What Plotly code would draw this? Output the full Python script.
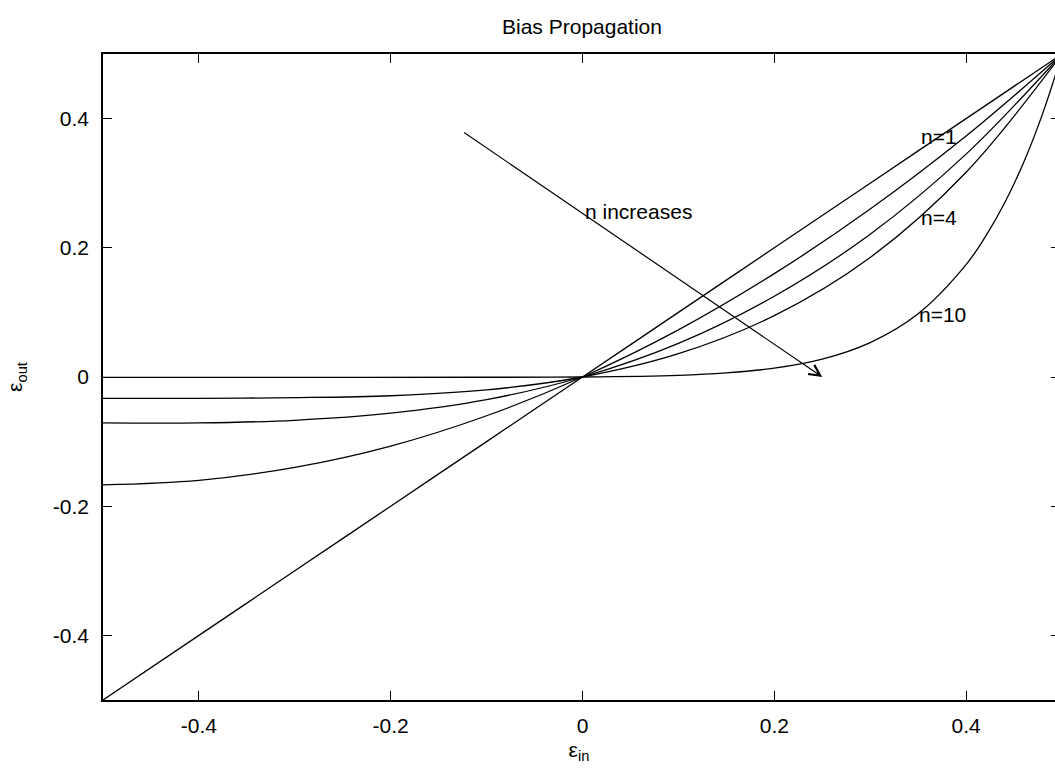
import plotly.graph_objects as go

# ---- data ----
x_main = [-0.5, -0.4, -0.3, -0.2, -0.1, 0.0, 0.1, 0.2, 0.3, 0.4, 0.5]
n1 = [-0.5, -0.4, -0.3, -0.2, -0.1, 0.0, 0.1, 0.2, 0.3, 0.4, 0.5]
n2 = [-0.167, -0.160, -0.140, -0.107, -0.060, 0.0, 0.073, 0.160, 0.260, 0.373, 0.5]
n3 = [-0.071, -0.071, -0.067, -0.056, -0.035, 0.0, 0.052, 0.125, 0.221, 0.345, 0.5]
n4 = [-0.033, -0.033, -0.032, -0.029, -0.020, 0.0, 0.036, 0.095, 0.185, 0.317, 0.5]

x_n10 = [-0.5, -0.3, -0.1, 0.0, 0.1, 0.15, 0.2, 0.25, 0.3, 0.35, 0.4, 0.42, 0.44, 0.46, 0.48, 0.5]
n10 = [-0.0005, -0.0005, -0.0004, 0.0, 0.0025, 0.0063, 0.0137, 0.0277, 0.0533, 0.098, 0.174,
       0.217, 0.269, 0.332, 0.4085, 0.5]

x_ticks = [-0.4, -0.2, 0, 0.2, 0.4]
x_tick_labels = ["-0.4", "-0.2", "0", "0.2", "0.4"]
y_ticks = [-0.4, -0.2, 0, 0.2, 0.4]
y_tick_labels = ["-0.4", "-0.2", "0", "0.2", "0.4"]

curve_labels = ["n=1", "n=4", "n=10"]
curve_label_x = [0.351, 0.351, 0.349]
curve_label_y = [0.372, 0.247, 0.097]

arrow_tail = (-0.125, 0.38)
arrow_head = (0.25, 0.0)

FONT = "Liberation Sans, Arial, Helvetica, sans-serif"
FS = 21
LINE = dict(color="black", width=1.3)

W, H = 1055, 773
L, T, B = 103, 54, 73

fig = go.Figure()
for xs, ys in [(x_main, n1), (x_main, n2), (x_main, n3), (x_main, n4), (x_n10, n10)]:
    fig.add_trace(go.Scatter(x=xs, y=ys, mode="lines", line=dict(shape="spline", **LINE),
                             showlegend=False, hoverinfo="skip"))

# invisible trace on right axis to drive mirrored right ticks
fig.add_trace(go.Scatter(x=[None], y=[None], yaxis="y2", showlegend=False))

for t, xx, yy in zip(curve_labels, curve_label_x, curve_label_y):
    fig.add_annotation(x=xx, y=yy, text=t, showarrow=False, xanchor="left", yanchor="middle",
                       font=dict(family=FONT, size=FS, color="black"))

fig.add_annotation(x=0.001, y=0.256, text="n increases", showarrow=False, xanchor="left",
                   yanchor="middle", font=dict(family=FONT, size=FS, color="black"))

fig.add_annotation(x=arrow_head[0], y=arrow_head[1], ax=arrow_tail[0], ay=arrow_tail[1],
                   xref="x", yref="y", axref="x", ayref="y", text="", showarrow=True,
                   arrowhead=5, arrowsize=1.8, arrowwidth=1.2, arrowcolor="black")

x_range_right = (1055 - 582) / 960.0

fig.update_layout(
    width=W, height=H,
    margin=dict(l=L, r=0, t=T, b=B),
    paper_bgcolor="white", plot_bgcolor="white",
    font=dict(family=FONT, size=FS, color="black"),
    title=dict(text="Bias Propagation", x=582 / W, xanchor="center", xref="container",
               y=1 - 27 / H, yanchor="middle", yref="container",
               font=dict(family=FONT, size=FS, color="black")),
    xaxis=dict(range=[-0.5, x_range_right], tickvals=x_ticks, ticktext=x_tick_labels,
               ticks="inside", ticklen=9, tickwidth=1.2, tickcolor="black",
               showline=True, linecolor="black", linewidth=1.6, mirror="ticks",
               showgrid=False, zeroline=False, ticklabelstandoff=6,
               tickfont=dict(family=FONT, size=FS),
               title=dict(text="ε<sub>in</sub>", standoff=6,
                          font=dict(family=FONT, size=FS))),
    yaxis=dict(range=[-0.5, 0.5], tickvals=y_ticks, ticktext=y_tick_labels,
               ticks="inside", ticklen=9, tickwidth=1.2, tickcolor="black",
               showline=True, linecolor="black", linewidth=1.6, mirror=False,
               showgrid=False, zeroline=False, ticklabelstandoff=8,
               tickfont=dict(family=FONT, size=FS),
               title=dict(text="ε<sub>out</sub>", standoff=24,
                          font=dict(family=FONT, size=FS))),
    yaxis2=dict(range=[-0.5, 0.5], overlaying="y", side="right", tickvals=y_ticks,
                ticks="inside", ticklen=4, tickwidth=1.2, tickcolor="black",
                showticklabels=False, showline=False, showgrid=False, zeroline=False),
)

fig.write_html(
    "out.html",
    config={"displayModeBar": False},
    post_script="document.body.style.margin='0';document.body.style.overflow='hidden';",
)
